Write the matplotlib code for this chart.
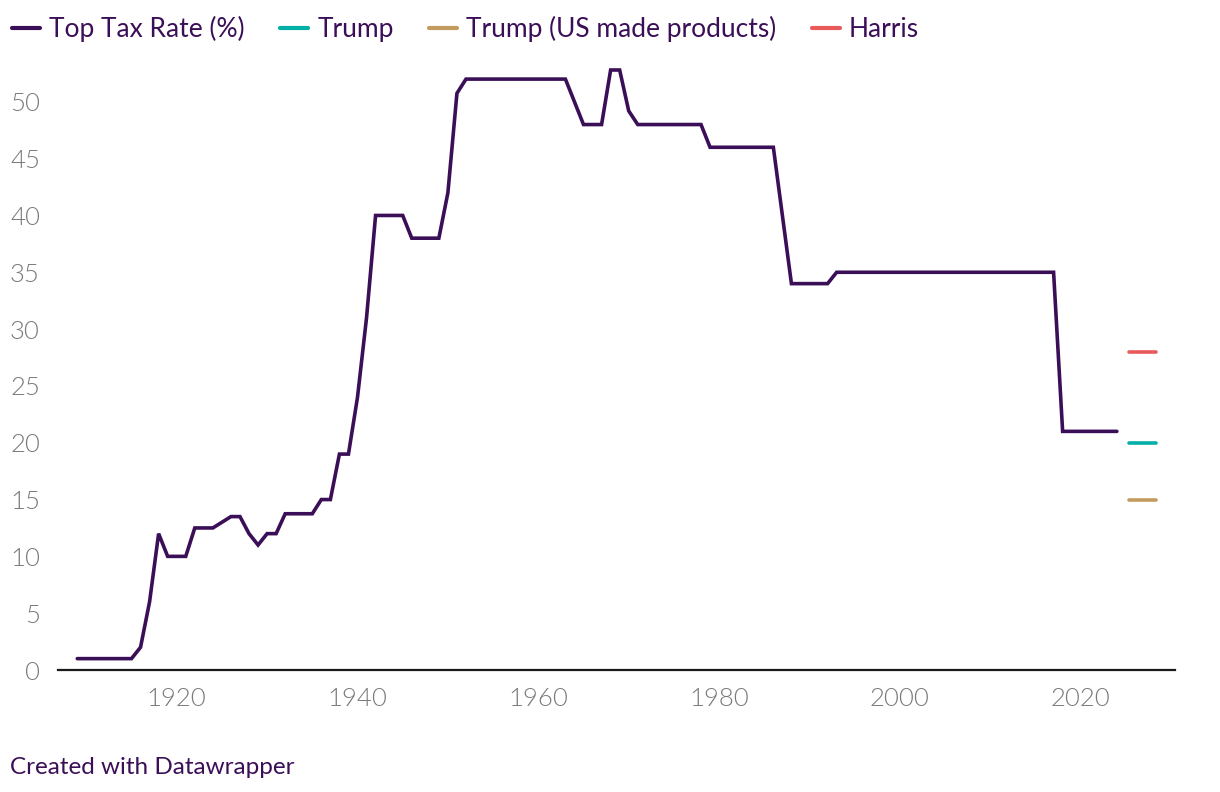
import matplotlib
matplotlib.use("Agg")
import matplotlib.pyplot as plt
from matplotlib.lines import Line2D

years = list(range(1909, 2025))
rates_by_period = [
    (1909, 1915, 1.0), (1916, 1916, 2.0), (1917, 1917, 6.0), (1918, 1918, 12.0),
    (1919, 1921, 10.0), (1922, 1924, 12.5), (1925, 1925, 13.0), (1926, 1927, 13.5),
    (1928, 1928, 12.0), (1929, 1929, 11.0), (1930, 1931, 12.0), (1932, 1935, 13.75),
    (1936, 1937, 15.0), (1938, 1939, 19.0), (1940, 1940, 24.0), (1941, 1941, 31.0),
    (1942, 1945, 40.0), (1946, 1949, 38.0), (1950, 1950, 42.0), (1951, 1951, 50.75),
    (1952, 1963, 52.0), (1964, 1964, 50.0), (1965, 1967, 48.0), (1968, 1969, 52.8),
    (1970, 1970, 49.2), (1971, 1978, 48.0), (1979, 1986, 46.0), (1987, 1987, 40.0),
    (1988, 1992, 34.0), (1993, 2017, 35.0), (2018, 2024, 21.0),
]
rates = []
for y in years:
    for a, b, r in rates_by_period:
        if a <= y <= b:
            rates.append(r)
            break

proposal_years = [2025.3, 2028.3]
trump = [20, 20]
trump_us = [15, 15]
harris = [28, 28]

labels = ["Top Tax Rate (%)", "Trump", "Trump (US made products)", "Harris"]
colors = ["#3b0f57", "#00b0a6", "#c29b5e", "#e85a5a"]
text_purple = "#3b0f57"
tick_gray = "#7a7a7a"

fig = plt.figure(figsize=(12.2, 7.92), dpi=100)
ax = fig.add_axes([58/1220, (792-670)/792, (1175-58)/1220, (670-45)/792])

ax.plot(years, rates, color=colors[0], lw=2.6, solid_capstyle="round", solid_joinstyle="miter")
ax.plot(proposal_years, trump, color=colors[1], lw=2.6, solid_capstyle="round")
ax.plot(proposal_years, trump_us, color=colors[2], lw=2.6, solid_capstyle="round")
ax.plot(proposal_years, harris, color=colors[3], lw=2.6, solid_capstyle="round")

ax.set_xlim(1906.87, 2030.43)
ax.set_ylim(0, 55)
for s in ["top", "right", "left"]:
    ax.spines[s].set_visible(False)
ax.spines["bottom"].set_color("#1a1a1a")
ax.spines["bottom"].set_linewidth(1.6)
ax.set_yticks(range(0, 55, 5))
ax.set_xticks([1920, 1940, 1960, 1980, 2000, 2020])
ax.tick_params(axis="y", length=0, pad=13, labelsize=18.5, labelcolor=tick_gray)
ax.tick_params(axis="x", length=0, pad=12, labelsize=18.5, labelcolor=tick_gray)
for lab in ax.get_xticklabels() + ax.get_yticklabels():
    lab.set_fontfamily("Lato")
    lab.set_fontweight(300)

handles = [Line2D([0], [0], color=c, lw=3, solid_capstyle="round") for c in colors]
leg = fig.legend(handles, labels, loc="upper left", bbox_to_anchor=(12/1220, 1 - 16/792), ncol=4,
                 frameon=False, handlelength=1.05, handletextpad=0.35, columnspacing=1.35,
                 borderpad=0, borderaxespad=0,
                 prop={"family": "Lato", "size": 19})
for t in leg.get_texts():
    t.set_color(text_purple)

fig.text(10/1220, 1 - 768/792, "Created with Datawrapper", color=text_purple,
         fontsize=17.5, family="Lato", va="center", ha="left")

fig.savefig("out.png", dpi=100)
